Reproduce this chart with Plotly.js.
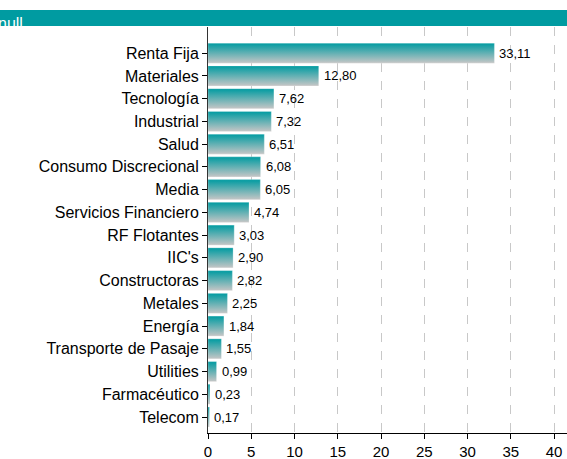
<!DOCTYPE html>
<html><head><meta charset="utf-8">
<script src="https://cdn.plot.ly/plotly-3.0.1.min.js"></script>
<style>html,body{margin:0;padding:0;background:#fff}#c{width:567px;height:459px}</style>
</head><body><div id="c"></div>
<script>
var categories = ["Renta Fija","Materiales","Tecnología","Industrial","Salud","Consumo Discrecional","Media","Servicios Financiero","RF Flotantes","IIC's","Constructoras","Metales","Energía","Transporte de Pasaje","Utilities","Farmacéutico","Telecom"];
var values = [33.11,12.80,7.62,7.32,6.51,6.08,6.05,4.74,3.03,2.90,2.82,2.25,1.84,1.55,0.99,0.23,0.17];
var xTicks = [0,5,10,15,20,25,30,35,40];

var half = 0.44;
var traces = [];
categories.forEach(function(c, i){
  var v = values[i];
  traces.push({
    type:'scatter', mode:'lines', hoverinfo:'skip', showlegend:false,
    x:[0, v, v, 0, 0],
    y:[i-half, i-half, i+half, i+half, i-half],
    fill:'toself',
    line:{width:0.5, color:'rgba(255,255,255,0.5)'},
    fillgradient:{type:'vertical', colorscale:[[0,'#c6c6c6'],[1,'#009ba1']]}
  });
});

var ann = values.map(function(v, i){
  return {x:v, y:i, xref:'x', yref:'y', xanchor:'left', yanchor:'middle', xshift:3,
    text:v.toFixed(2).replace('.', ','), showarrow:false,
    font:{family:'Liberation Sans, Arial, sans-serif', size:13, color:'#000'}};
});
ann.push({xref:'paper', yref:'paper', x:-0.59, y:(459-26-13)/(459-27-26), xanchor:'left', yanchor:'top', text:'null', showarrow:false, font:{size:16, color:'#fff'}});

var layout = {
  width:567, height:459,
  margin:{l:208, r:0, t:27, b:26, pad:0},
  paper_bgcolor:'#fff', plot_bgcolor:'#fff',
  font:{family:'Liberation Sans, Arial, sans-serif', color:'#000'},
  xaxis:{
    range:[0, 41.5], tickvals:xTicks, ticktext:xTicks.map(String),
    showgrid:true, gridcolor:'#c8c8c8', griddash:'dash', gridwidth:1,
    zeroline:false, showline:true, linecolor:'#000', linewidth:1,
    ticks:'outside', ticklen:5, tickcolor:'#000',
    tickfont:{size:15, color:'#000'}
  },
  yaxis:{
    range:[16.7, -1.15], tickvals:categories.map(function(c,i){return i;}), ticktext:categories,
    showgrid:false, zeroline:false, showline:true, linecolor:'#333', linewidth:1,
    ticks:'outside', ticklen:5, tickcolor:'#000',
    tickfont:{size:16, color:'#000'}
  },
  shapes:[{type:'rect', xref:'paper', yref:'paper', x0:-0.6, x1:1.02, y0:(459-26-26)/(459-27-26), y1:(459-26-10)/(459-27-26), fillcolor:'#009ba1', line:{width:0}, layer:'above'}],
  annotations: ann
};
Plotly.newPlot('c', traces, layout, {displayModeBar:false, staticPlot:true});
</script></body></html>
